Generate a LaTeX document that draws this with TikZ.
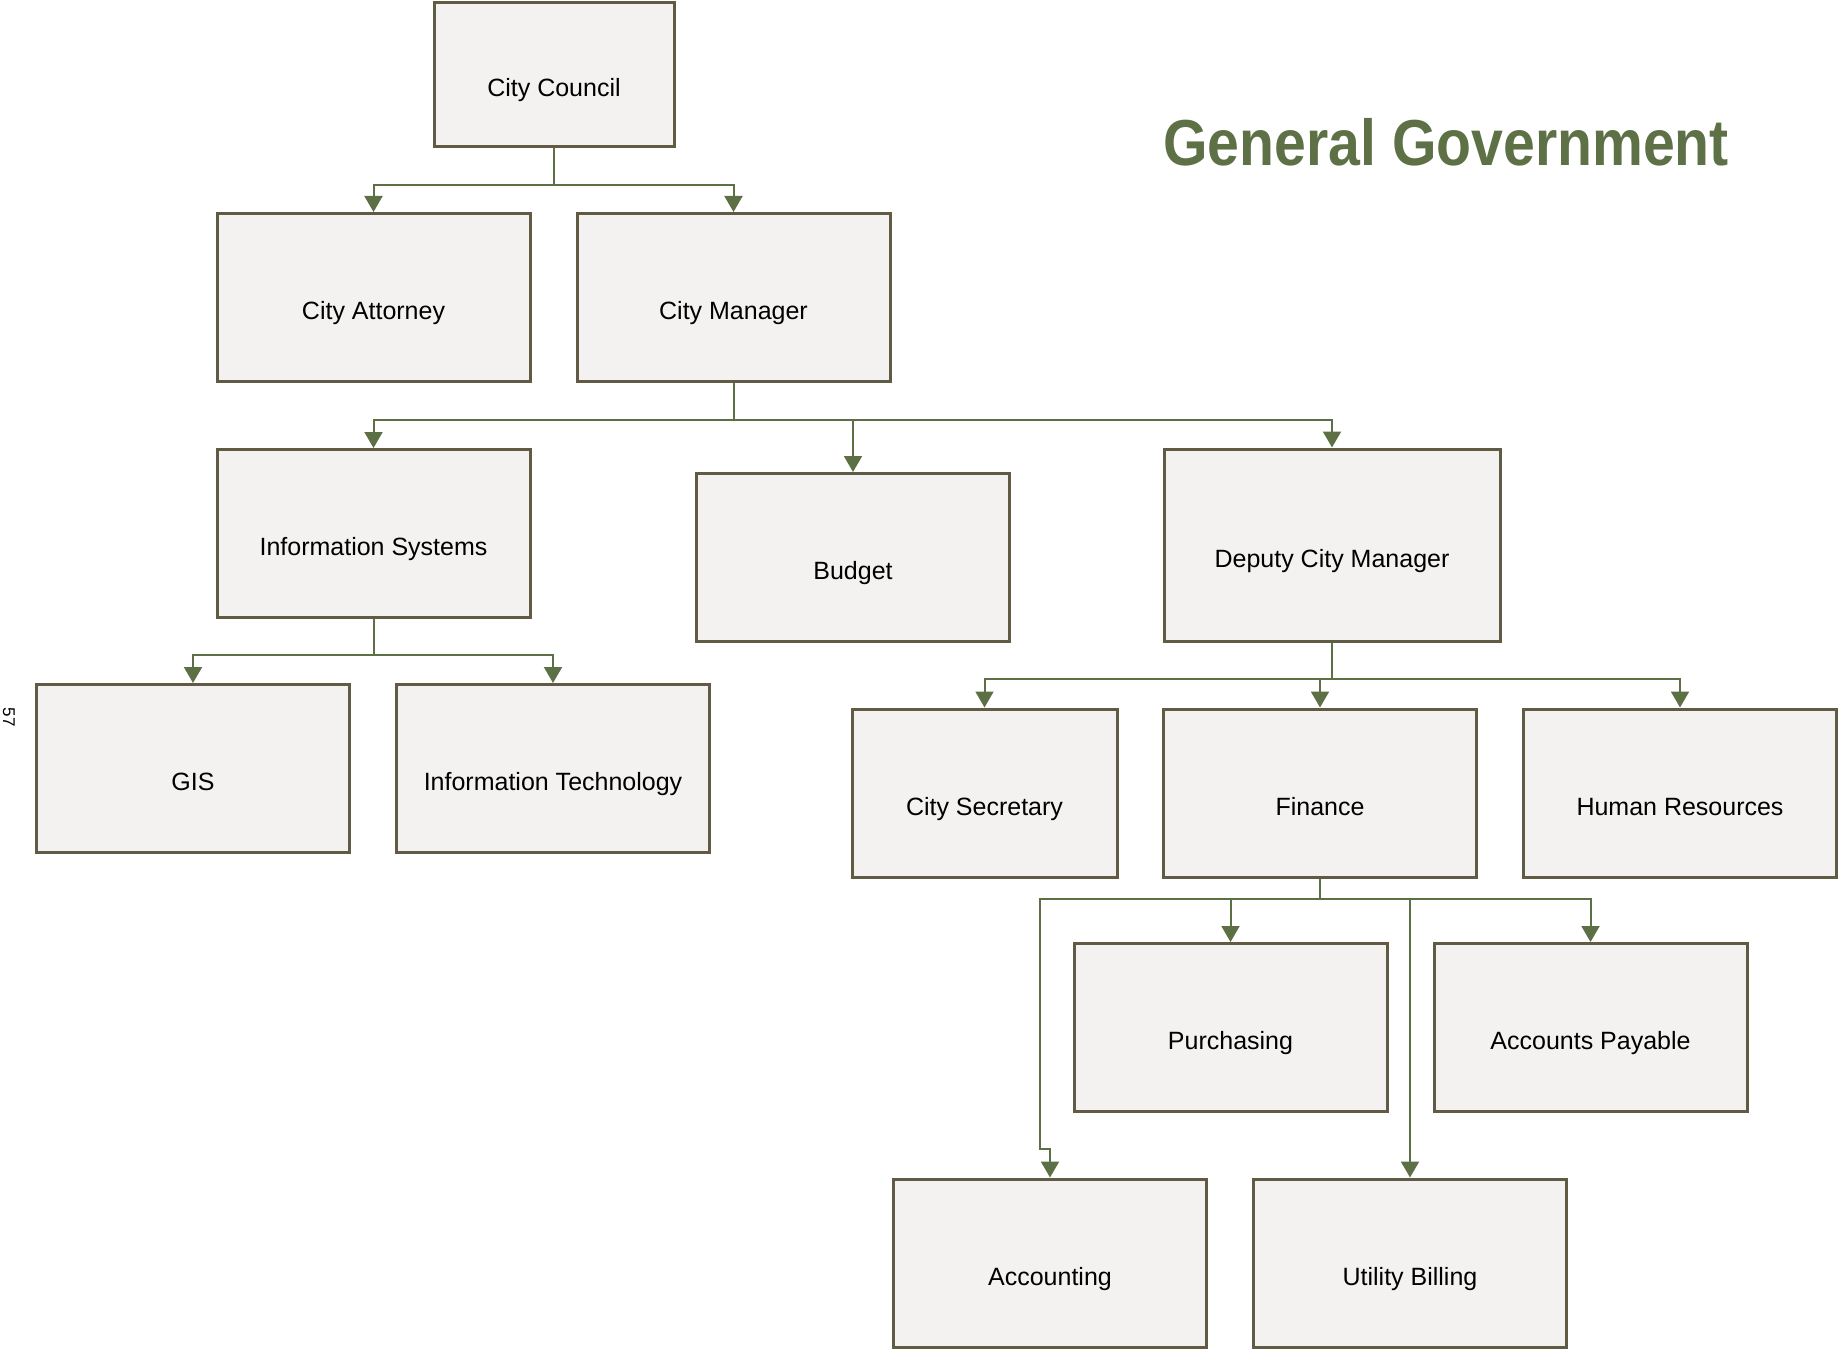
\documentclass[tikz,border=0pt]{standalone}
\usepackage{fontspec}
\setmainfont{Liberation Sans}
\newfontfamily\titlefont[FakeStretch=0.88]{Liberation Sans}
\usetikzlibrary{arrows.meta}
\definecolor{boxborder}{HTML}{615B45}
\definecolor{boxfill}{HTML}{F3F2F0}
\definecolor{linecol}{HTML}{5D6F45}
\definecolor{titlecol}{HTML}{5E7045}
\newcommand\bxt[1]{\raisebox{-22pt}[0pt][0pt]{#1}}
\tikzset{
  orgbox/.style={draw=boxborder, fill=boxfill, line width=3pt, rectangle,
    minimum width=313pt, minimum height=168pt, inner sep=0pt,
    font=\fontsize{25pt}{30pt}\selectfont},
  conn/.style={draw=linecol, line width=2pt},
  arr/.style={conn, -{Triangle[width=18pt,length=16pt]}},
}
\begin{document}
\begin{tikzpicture}[x=1pt,y=-1pt]
\useasboundingbox (0,0) rectangle (1838,1351);
% title
\node[anchor=base west, inner sep=0pt, text=titlecol,
  font=\titlefont\bfseries\fontsize{65pt}{78pt}\selectfont] (title) at (1163,166) {General Government};
\node[rotate=-90, inner sep=0pt, font=\fontsize{17pt}{20pt}\selectfont] (pg) at (9,717) {57};
% boxes
\node[orgbox, minimum width=240pt, minimum height=144pt] (cc) at (554,75) {\bxt{City Council}};
\node[orgbox] (ca) at (373.5,297.5) {\bxt{City Attorney}};
\node[orgbox] (cm) at (733.5,297.5) {\bxt{City Manager}};
\node[orgbox] (is) at (373.5,533.5) {\bxt{Information Systems}};
\node[orgbox] (bu) at (853,557.5) {\bxt{Budget}};
\node[orgbox, minimum width=336pt, minimum height=192pt] (dcm) at (1332,545) {\bxt{Deputy City Manager}};
\node[orgbox] (gis) at (193,768.5) {\bxt{GIS}};
\node[orgbox] (it) at (553,768.5) {\bxt{Information Technology}};
\node[orgbox, minimum width=265pt] (cs) at (984.5,793) {\bxt{City Secretary}};
\node[orgbox] (fin) at (1320,793) {\bxt{Finance}};
\node[orgbox] (hr) at (1680,793) {\bxt{Human Resources}};
\node[orgbox] (pur) at (1230.5,1027.5) {\bxt{Purchasing}};
\node[orgbox] (ap) at (1590.5,1027.5) {\bxt{Accounts Payable}};
\node[orgbox] (acc) at (1050,1263) {\bxt{Accounting}};
\node[orgbox] (ub) at (1410,1263) {\bxt{Utility Billing}};
% connectors
\coordinate (b1) at (554,185);
\draw[conn] (cc.south) -- (b1);
\draw[arr] (b1) -| (ca.north);
\draw[arr] (b1) -| (cm.north);
\coordinate (b2) at (733.5,420);
\draw[conn] (cm.south) -- (b2);
\draw[arr] (b2) -| (is.north);
\draw[arr] (b2) -| (bu.north);
\draw[arr] (b2) -| (dcm.north);
\coordinate (b3) at (373.5,655);
\draw[conn] (is.south) -- (b3);
\draw[arr] (b3) -| (gis.north);
\draw[arr] (b3) -| (it.north);
\coordinate (b4) at (1332,679);
\draw[conn] (dcm.south) -- (b4);
\draw[arr] (b4) -| (cs.north);
\draw[arr] (b4) -| (fin.north);
\draw[arr] (b4) -| (hr.north);
\coordinate (b5) at (1320,899);
\coordinate (b5l) at (1040,899);
\coordinate (b5d) at (1040,1149);
\draw[conn] (fin.south) -- (b5);
\draw[arr] (b5) -| (pur.north);
\draw[arr] (b5) -| (ap.north);
\draw[arr] (b5) -| (ub.north);
\draw[arr] (b5) -- (b5l) -- (b5d) -| (acc.north);
\end{tikzpicture}
\end{document}
